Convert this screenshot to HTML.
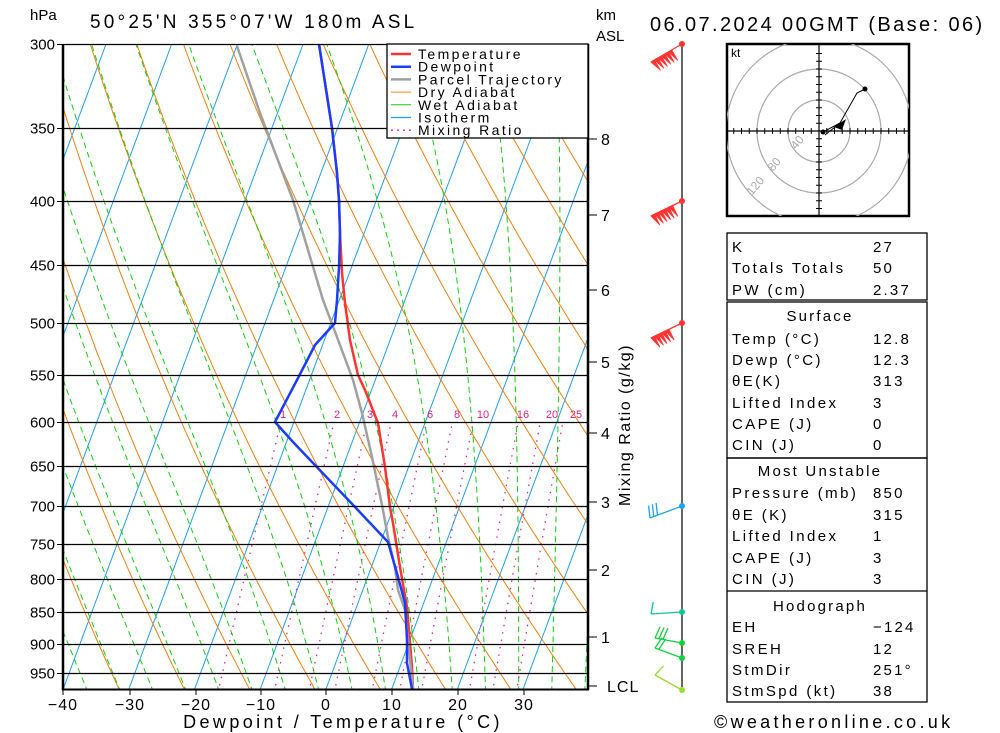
<!DOCTYPE html>
<html><head><meta charset="utf-8"><style>
html,body{margin:0;padding:0;background:#fff;}
svg{display:block;font-family:"Liberation Sans",sans-serif;}
</style></head><body>
<svg id="s" width="1000" height="733" viewBox="0 0 1000 733" xmlns="http://www.w3.org/2000/svg">
<defs><clipPath id="pc"><rect x="63" y="44" width="525" height="645"/></clipPath>
<clipPath id="hc"><rect x="727" y="44" width="182" height="172"/></clipPath></defs>
<g id="grid" clip-path="url(#pc)"></g>
<g id="prof" clip-path="url(#pc)" fill="none" stroke-linejoin="round">
<polyline stroke="#ff3333" stroke-width="2.5" points="319,44 332,128 337,173 339,200 340,233 342,273 345,303 350,340 358,375 365,390 378,423 385,467 390,507 393,523 400,567 407,607 410,643 412,667 413,689"/>
<polyline stroke="#a0a0a0" stroke-width="2.5" points="413,689 410,660 405,610 398,590 395,567 388,537 382,505 372,457 362,413 353,380 337,337 323,300 293,200 260,113 237,46"/>
<polyline stroke="#1a3cff" stroke-width="2.5" points="319,44 332,128 337,173 339,200 340,233 339,267 337,300 335,323 315,345 297,380 275,422 293,442 313,463 355,507 388,542 398,577 405,603 407,640 407,663 412,689"/>
</g>
<g id="frame"></g>
<g id="txt" font-size="15" fill="#000"></g>
</svg>
<script>
const NS="http://www.w3.org/2000/svg";
function el(parent,tag,attrs,text){const e=document.createElementNS(NS,tag);for(const k in attrs)e.setAttribute(k,attrs[k]);if(text!==undefined)e.textContent=text;document.getElementById(parent).appendChild(e);return e;}
const X=(T,y)=>326+6.57*T+0.372*(689-y);
const Y=p=>44+545.7*Math.log(p/300);
const PB=985;
function pl(g,pts,attrs){attrs.points=pts.map(a=>a[0].toFixed(1)+","+a[1].toFixed(1)).join(" ");attrs.fill="none";el(g,"polyline",attrs);}
for(let T=-140;T<=60;T+=10){el("grid","line",{x1:X(T,689),y1:689,x2:X(T,44),y2:44,stroke:"#1ea0f0","stroke-width":1});}
for(let th=-60;th<=220;th+=10){const pts=[];for(let p=PB;p>=295;p-=5){const T=(th+273.15)*Math.pow(p/1000,0.2857)-273.15;pts.push([X(T,Y(p)),Y(p)]);}pl("grid",pts,{stroke:"#f08010","stroke-width":1});}
function es(T){return 6.112*Math.exp(17.67*T/(T+243.5));}
for(let tw=-40;tw<=45;tw+=5){let T=tw+273.15;const pts=[];for(let p=1000;p>=295;p-=2){const tc=T-273.15;const e=es(tc);const rs=0.622*e/(p-e);const Lv=2.5e6,Rd=287,cp=1005;const dTdp=(1/p)*(Rd*T+Lv*rs)/(cp+Lv*Lv*rs*0.622/(Rd*T*T));if(p<=PB)pts.push([X(tc,Y(p)),Y(p)]);T-=dTdp*2;}pl("grid",pts,{stroke:"#10d010","stroke-width":1,"stroke-dasharray":"6,4"});}
const mr=[1,2,3,4,6,8,10,16,20,25];
for(const w of mr){const pts=[];for(let p=PB;p>=600;p-=5){const e=(w/1000)*p/(0.622+w/1000);const l=Math.log(e/6.112);const Td=243.5*l/(17.67-l);pts.push([X(Td,Y(p))+7,Y(p)]);}pl("grid",pts,{stroke:"#f0208a","stroke-width":1.3,"stroke-dasharray":"1.5,6"});}
const P=[300,350,400,450,500,550,600,650,700,750,800,850,900,950];
for(const p of P){const y=Math.round(Y(p))+0.5;el("frame","line",{x1:63,y1:y,x2:588,y2:y,stroke:"#000","stroke-width":1.3});el("txt","text",{x:55,y:y+5,"text-anchor":"end"},String(p));el("frame","line",{x1:57,y1:y,x2:63,y2:y,stroke:"#000","stroke-width":1});}
el("frame","line",{x1:63,y1:44,x2:63,y2:690,stroke:"#000","stroke-width":2.5});
el("frame","line",{x1:588,y1:44,x2:588,y2:690,stroke:"#000","stroke-width":2.5});
el("frame","line",{x1:62,y1:689.5,x2:589,y2:689.5,stroke:"#000","stroke-width":2});
const mlx=[283,337,370,395,430,457,483,523,552,576];
mr.forEach((w,i)=>el("txt","text",{x:mlx[i],y:418,"text-anchor":"middle",fill:"#e0208a","font-size":11},String(w)));
[-40,-30,-20,-10,0,10,20,30].forEach((t,i)=>{const x=[63,130,196,261,326,392,458,524][i];el("txt","text",{x:x,y:710,"text-anchor":"middle","font-size":16,"letter-spacing":"1"},t<0?"\u2212"+(-t):String(t));el("frame","line",{x1:x,y1:689,x2:x,y2:695,stroke:"#000"});});
el("txt","text",{x:343,y:728,"text-anchor":"middle","font-size":18,"letter-spacing":"3.4"},"Dewpoint / Temperature (°C)");
[[8,139],[7,215],[6,290],[5,362],[4,433],[3,502],[2,570],[1,637]].forEach(a=>{el("frame","line",{x1:588,y1:a[1],x2:597,y2:a[1],stroke:"#000"});el("txt","text",{x:601,y:a[1]+6,"font-size":16},String(a[0]));});
el("frame","line",{x1:588,y1:686,x2:597,y2:686,stroke:"#000"});
el("txt","text",{x:607,y:692,"font-size":16,"letter-spacing":"1"},"LCL");
el("txt","text",{x:630,y:425,"text-anchor":"middle","font-size":16,"letter-spacing":"1.5",transform:"rotate(-90 630 425)"},"Mixing Ratio (g/kg)");
el("txt","text",{x:30,y:20,"font-size":15},"hPa");
el("txt","text",{x:90,y:28,"font-size":19,"letter-spacing":"3.2"},"50°25'N 355°07'W 180m ASL");
el("txt","text",{x:596,y:20,"font-size":15},"km");
el("txt","text",{x:596,y:41,"font-size":15},"ASL");
el("txt","text",{x:650,y:31,"font-size":20,"letter-spacing":"2.4"},"06.07.2024 00GMT (Base: 06)");
el("frame","rect",{x:387,y:44,width:201,height:94,fill:"#fff",stroke:"#000","stroke-width":1.3});
[["Temperature","#ff3333",2.5,""],["Dewpoint","#1a3cff",2.5,""],["Parcel Trajectory","#a0a0a0",2.5,""],["Dry Adiabat","#f08010",1,""],["Wet Adiabat","#10d010",1,""],["Isotherm","#1ea0f0",1.3,""],["Mixing Ratio","#f0208a",1.3,"2,4"]].forEach((a,i)=>{const y=54+i*12.7;el("frame","line",{x1:391,y1:y,x2:411,y2:y,stroke:a[1],"stroke-width":a[2],"stroke-dasharray":a[3]});el("txt","text",{x:418,y:y+5,"font-size":14,"letter-spacing":"2.4"},a[0]);});
el("frame","line",{x1:682,y1:44,x2:682,y2:690,stroke:"#000","stroke-width":1.2});
function barb(y,col,ex,ey,n,pen,flip){el("frame","line",{x1:682,y1:y,x2:ex,y2:ey,stroke:col,"stroke-width":1.3});
 const dx=(ex-682),dy=(ey-y),L=Math.hypot(dx,dy),ux=dx/L,uy=dy/L;let nx=uy,ny=-ux;if(flip){nx=-nx;ny=-ny;}
 for(let i=0;i<n;i++){const bx=ex-ux*i*4,by=ey-uy*i*4;if(pen){el("frame","polygon",{points:`${bx},${by} ${bx-ux*4+nx*12},${by-uy*4+ny*12} ${bx-ux*4},${by-uy*4}`,fill:col,stroke:col,"stroke-width":0.8});}else{el("frame","line",{x1:bx,y1:by,x2:bx+nx*12-ux*3,y2:by+ny*12-uy*3,stroke:col,"stroke-width":1.3});}}
 el("frame","circle",{cx:682,cy:y,r:3,fill:col});}
barb(44,"#ff3333",651,62,6,true,false);
barb(201,"#ff3333",651,216,6,true,false);
barb(323,"#ff3333",651,338,5,true,false);
barb(506,"#1ea0f0",650,518,3,false,true);
barb(612,"#10c890",651,614,1,false,true);
barb(643,"#10d040",655,638,3,false,true);
barb(658,"#10d040",655,648,2,false,true);
barb(690,"#99dd33",655,675,1,false,true);
el("frame","rect",{x:727,y:44,width:182,height:172,fill:"none",stroke:"#000","stroke-width":2.5});
[31,62,93].forEach(r=>el("frame","circle",{cx:819,cy:131,r:r,fill:"none",stroke:"#aaa","stroke-width":1.2,"clip-path":"url(#hc)"}));
el("frame","line",{x1:727,y1:131,x2:909,y2:131,stroke:"#000","stroke-width":1.2});
el("frame","line",{x1:819,y1:44,x2:819,y2:216,stroke:"#000","stroke-width":1.2});
for(let k=-11;k<=11;k++){if(!k)continue;const d=k*7.75;if(Math.abs(d)<90){el("frame","line",{x1:819+d,y1:128,x2:819+d,y2:134,stroke:"#000"});}if(Math.abs(d)<84){el("frame","line",{x1:816,y1:131+d,x2:822,y2:131+d,stroke:"#000"});}}
el("txt","text",{x:731,y:57,"font-size":12},"kt");
[["40",796,150],["80",773,172],["120",752,196]].forEach(a=>el("txt","text",{x:a[1],y:a[2],"font-size":12,fill:"#aaa",transform:`rotate(-50 ${a[1]} ${a[2]})`},a[0]));
el("frame","polyline",{points:"823,132 840,123 857,93 865,89",fill:"none",stroke:"#000","stroke-width":1});
el("frame","polyline",{points:"825,135 840,123",fill:"none",stroke:"#000","stroke-width":1});
el("frame","circle",{cx:865,cy:89,r:2.5,fill:"#000"});
el("frame","circle",{cx:823,cy:132,r:2.5,fill:"#000"});
el("frame","polygon",{points:"834,127 846,119 842,130",fill:"#000"});
el("frame","rect",{x:727,y:233,width:200,height:67,fill:"none",stroke:"#000","stroke-width":1.3});
el("frame","rect",{x:727,y:302,width:200,height:156,fill:"none",stroke:"#000","stroke-width":1.3});
el("frame","rect",{x:727,y:458,width:200,height:244,fill:"none",stroke:"#000","stroke-width":1.3});
el("frame","line",{x1:727,y1:591,x2:927,y2:591,stroke:"#000","stroke-width":1.3});
const rows=[["K","27",252],["Totals Totals","50",273],["PW (cm)","2.37",295],
["Temp (°C)","12.8",344],["Dewp (°C)","12.3",365],["θE(K)","313",386],["Lifted Index","3",408],["CAPE (J)","0",429],["CIN (J)","0",450],
["Pressure (mb)","850",498],["θE (K)","315",520],["Lifted Index","1",541],["CAPE (J)","3",563],["CIN (J)","3",584],
["EH","\u2212124",632],["SREH","12",654],["StmDir","251°",675],["StmSpd (kt)","38",696]];
rows.forEach(r=>{el("txt","text",{x:732,y:r[2],"font-size":15,"letter-spacing":"2.4"},r[0]);el("txt","text",{x:873,y:r[2],"font-size":15,"letter-spacing":"2.2"},r[1]);});
[["Surface",321],["Most Unstable",476],["Hodograph",611]].forEach(a=>el("txt","text",{x:820,y:a[1],"text-anchor":"middle","font-size":15,"letter-spacing":"2.2"},a[0]));
el("txt","text",{x:714,y:728,"font-size":18,"letter-spacing":"3.3"},"©weatheronline.co.uk");
</script>
</body></html>
